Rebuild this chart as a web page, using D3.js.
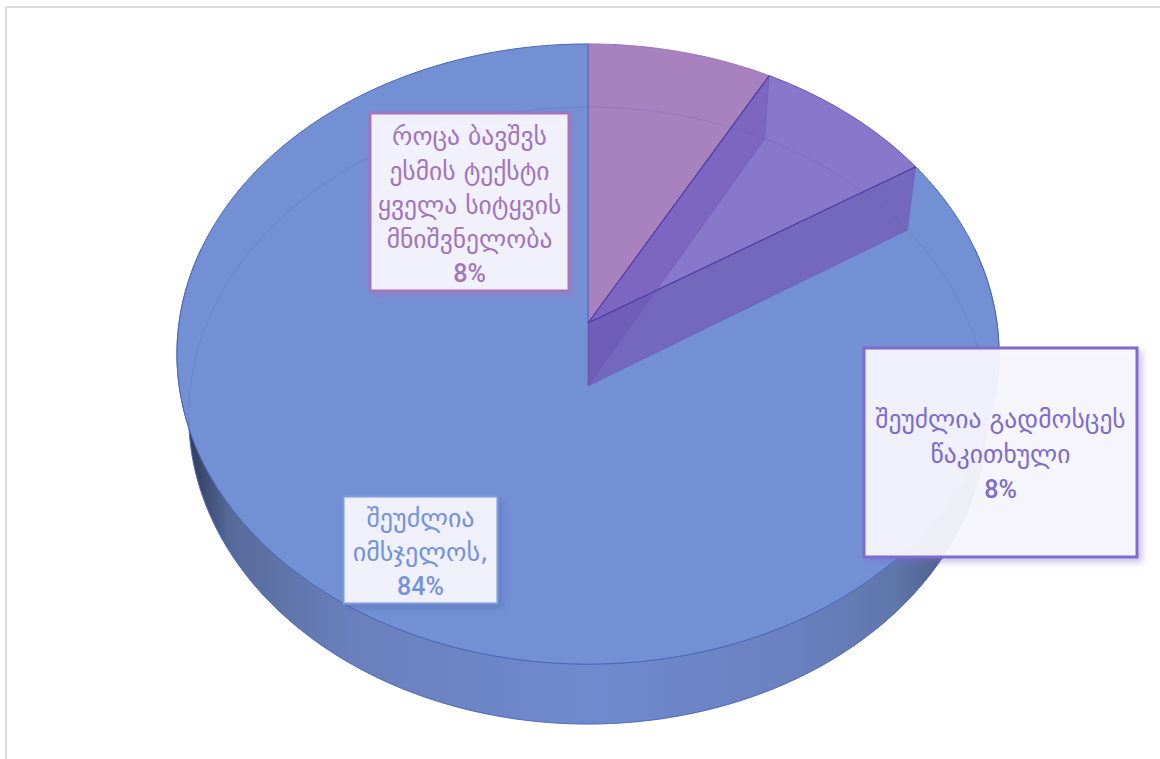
<!DOCTYPE html>
<html>
<head>
<meta charset="utf-8">
<script src="https://cdn.jsdelivr.net/npm/d3@7/dist/d3.min.js"></script>
<style>html,body{margin:0;padding:0;background:#fff;overflow:hidden}svg{display:block}</style>
</head>
<body>
<svg id="chart" width="1160" height="759"></svg>
<script>
const categories = [
  ["როცა ბავშვს", "ესმის ტექსტი", "ყველა სიტყვის", "მნიშვნელობა"],
  ["შეუძლია გადმოსცეს", "წაკითხული"],
  ["შეუძლია", "იმსჯელოს,"]
];
const values = [8, 8, 84];
const sliceColors = ["#A882BE", "#8878CC", "#7390D5"];
const textColors = ["#A374BE", "#7E6CCB", "#7592DC"];
const edgeColors = ["#9A6FB8", "#5A48B0", "#4A67B5"];
const boxStroke = ["#A374BE", "#7E6CCB", "#7D9ADB"];
const wallOverlay = [["#6040A8", 0.3], ["#734CAF", 0.6]];

const boxes = [
  {x:370, y:113, w:199, h:178, sw:3, fs:25.5, lines:[145,180,214,248], pct:282},
  {x:864, y:348, w:273, h:209, sw:3, fs:25.5, lines:[428,463], pct:498},
  {x:343.5, y:496.5, w:154, h:107, sw:2, fs:26, lines:[527,561], pct:595}
];

const svg = d3.select("#chart");
const defs = svg.append("defs");

const grad = defs.append("linearGradient").attr("id","wall")
  .attr("gradientUnits","userSpaceOnUse").attr("x1",188).attr("x2",950).attr("y1",0).attr("y2",0);
[[0,"#2e3a58"],[0.055,"#566a9a"],[0.21,"#6a80bc"],[0.53,"#6f8ace"],[0.8,"#6b80bf"],[0.93,"#5f76aa"],[1,"#4a5c88"]]
  .forEach(s => grad.append("stop").attr("offset",s[0]).attr("stop-color",s[1]));

boxStroke.forEach((c,i) => {
  defs.append("filter").attr("id","sh"+i).attr("x","-10%").attr("y","-10%").attr("width","125%").attr("height","125%")
    .append("feDropShadow").attr("dx",4).attr("dy",4).attr("stdDeviation",3)
    .attr("flood-color", i===2 ? "#4a62a8" : c).attr("flood-opacity",0.4);
});

// frame
svg.append("path").attr("d","M6 759V7H1160").attr("fill","none").attr("stroke","#dcdcdc").attr("stroke-width",2);

// perspective projection of a pie disc
const topDisc = {cx:588, cy:323, a:409, b:307, k:0.1};
const baseDisc = {cx:588, cy:386, a:397.5, b:305.7, k:0.0956};
const project = (d, t) => {
  const u = Math.sin(t), v = Math.cos(t), w = 1 + d.k * v;
  return [d.cx + d.a * u / w, d.cy - d.b * v / w];
};
const arcPts = (d, t0, t1) => d3.range(0, 181).map(i => project(d, t0 + (t1 - t0) * i / 180));
const line = d3.line();
const pie = d3.pie().sort(null).value(v => v);
const arcs = pie(values);
const wedge = (d, a) => line([[d.cx, d.cy], ...arcPts(d, a.startAngle, a.endAngle)]) + "Z";

// base disc
svg.append("path").attr("d", line(arcPts(baseDisc,0,2*Math.PI))+"Z").attr("fill","#6d86c8");

// outer wall
const ta = Math.PI*0.42, tb = Math.PI*1.58;
svg.append("path")
  .attr("d", line([...arcPts(topDisc,ta,tb), ...arcPts(baseDisc,tb,ta)])+"Z")
  .attr("fill","url(#wall)").attr("stroke","#5a76c4").attr("stroke-width",1);

// top faces
svg.selectAll("path.top").data(arcs).join("path").attr("class","top")
  .attr("d", a => wedge(topDisc,a))
  .attr("fill", (a,i) => sliceColors[i])
  .attr("stroke", (a,i) => edgeColors[i]).attr("stroke-width",1).attr("stroke-linejoin","round");

// base rim seen through the top
svg.append("path").attr("d", line(arcPts(baseDisc,0,2*Math.PI))+"Z")
  .attr("fill","none").attr("stroke","#4a5aa8").attr("stroke-opacity",0.25).attr("stroke-width",1);

// radial walls of the pulled wedges, seen through the top
[arcs[0].endAngle, arcs[1].endAngle].forEach((t,i) => {
  const p = project(topDisc,t), q = project(baseDisc,t);
  svg.append("path")
    .attr("d", line([[topDisc.cx,topDisc.cy], p, q, [baseDisc.cx,baseDisc.cy]])+"Z")
    .attr("fill", wallOverlay[i][0]).attr("fill-opacity", wallOverlay[i][1])
    .attr("stroke","#5a48b0").attr("stroke-opacity",0.3).attr("stroke-width",1);
  svg.append("path").attr("d", line([[topDisc.cx,topDisc.cy], p]))
    .attr("stroke","#5040A8").attr("stroke-width",1.1).attr("fill","none");
});

// labels
boxes.forEach((b,i) => {
  const g = svg.append("g");
  g.append("rect").attr("x",b.x).attr("y",b.y).attr("width",b.w).attr("height",b.h)
    .attr("fill","#F7F7FD").attr("fill-opacity",0.93)
    .attr("stroke",boxStroke[i]).attr("stroke-width",b.sw)
    .attr("filter",`url(#sh${i})`);
  const cx = b.x + b.w/2;
  categories[i].forEach((t,j) => {
    g.append("text").attr("x",cx).attr("y",b.lines[j]).attr("text-anchor","middle")
      .attr("font-family","'DejaVu Sans',sans-serif").attr("font-size",b.fs)
      .attr("fill",textColors[i]).text(t);
  });
  g.append("text").attr("x",cx).attr("y",b.pct).attr("text-anchor","middle")
    .attr("font-family","Roboto,sans-serif").attr("font-size",25).attr("font-weight",500)
    .attr("fill",textColors[i]).text(values[i]+"%");
});
</script>
</body>
</html>
